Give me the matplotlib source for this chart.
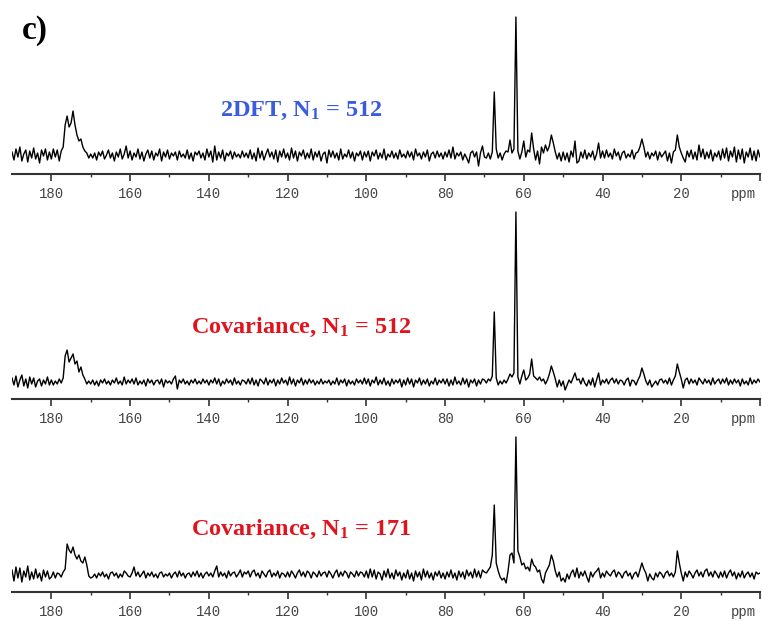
import numpy as np
import matplotlib
matplotlib.use('Agg')
import matplotlib.pyplot as plt

# chemical shift axis, 190 -> 0 ppm in 0.5 ppm steps
ppm = np.arange(190, -0.25, -0.5)

# 2DFT, N1 = 512 (intensity, arbitrary units, 10 ppm per row)
s1 = ([3, -5, 6, -2, 8, -6, 1, 5, -7, 4, -3, 7, -4, 2, -8, 5, -1, 6, -5, 3] +
      [-4, 6, -2, 5, -6, 4, 8, 30, 39, 28, 32, 44, 30, 20, 14, 16, 8, 4, 2, -3] +
      [1, -3, 2, -5, 3, -1, 4, -4, 0, 5, -3, 2, -6, 3, -2, 6, -4, 1, 9, -3] +
      [4, -5, 2, -2, 6, -4, 3, -6, 1, 5, -3, 4, -5, 2, -1, 6, -6, 3, -2, 5] +
      [-4, 2, -1, 3, -5, 4, -2, 1, -3, 5, -4, 2, -6, 3, 0, 4, -3, 2, -5, 6] +
      [-2, 4, -7, 9, -5, 3, -3, 5, -6, 2, -1, 4, -4, 3, -2, 1, -3, 4, -2, 2] +
      [-3, 5, -4, 2, -6, 7, -3, 4, -5, 1, 6, -2, 3, -4, 5, -7, 4, -2, 6, -3] +
      [2, -5, 7, -3, 4, -6, 3, -1, 5, -4, 2, -3, 6, -5, 3, -2, 4, -6, 1, 3] +
      [-8, 5, -2, 4, -3, 2, -5, 6, -4, 1, -2, 5, -3, 3, -6, 2, -1, 4, -5, 3] +
      [-2, 4, -6, 3, -1, 5, -4, 2, -3, 6, -5, 1, -2, 4, -3, 2, -4, 5, -2, 1] +
      [-3, 4, -2, 3, -5, 6, -1, 2, -4, 3, -2, 5, -6, 1, 3, -3, 4, -2, 2, -4] +
      [3, -2, 5, -3, 8, -4, 2, -1, 3, -5, 1, -3, -8, 2, 4, -2, 3, -11, 2, 9] +
      [-2, -3, 2, -4, 3, 63, 6, -3, 2, -5, 1, 4, 3, 15, 2, 6, 138, 4, -4, 3] +
      [14, -2, 5, 3, 22, 6, -5, 4, -9, 8, 2, 10, 4, 9, 20, 12, 3, -4, 2, -6] +
      [3, -5, 2, -7, 4, -2, 14, -8, -6, 3, -3, 5, -4, 2, -2, 4, -5, 1, 12, -3] +
      [4, -3, 5, -2, 2, -4, 6, -1, 3, -5, 2, 4, -3, 1, -2, 5, -4, 2, 3, 8] +
      [16, 8, -2, 3, -4, 2, -1, 4, -5, 3, -2, 1, 4, -6, 2, -8, 3, 5, 20, 8] +
      [2, -3, -7, 4, -2, 5, -4, 3, -5, 10, -2, 6, -4, 3, -3, 5, -6, 2, -2, 4] +
      [-5, 6, -3, 7, -6, 4, -2, 8, -7, 5, -4, 6, -8, 3, -2, 7, -5, 4, -6, 5] +
      [-2])

# Covariance, N1 = 512
s2 = ([4, -3, 6, -5, 2, 7, -4, 3, -6, 5, -2, 4, -5, 1, 3, -4, 2, -2, 5, -3] +
      [2, -3, 1, -2, 3, -1, 4, 26, 32, 20, 24, 28, 18, 21, 10, 15, 7, 3, -2, 1] +
      [-2, 2, -3, 1, -4, 2, -1, 3, -2, 1, -3, 2, -1, 4, -2, 1, -3, 5, -2, 2] +
      [-1, 3, -2, 4, -3, 1, -2, 2, -4, 3, -1, 2, -3, 1, 2, -2, 3, -5, 2, -1] +
      [1, -2, 3, 6, -7, 2, -1, 3, -2, 1, -3, 2, -1, 3, -2, 1, -2, 3, -1, 2] +
      [-3, 2, -1, 4, -2, 3, -4, 1, -2, 3, -1, 2, -3, 4, -2, 1, -3, 2, 1, -2] +
      [3, -2, 4, -3, 2, -4, 3, 1, -2, 4, -3, 2, -1, 3, -4, 2, -2, 4, -1, 2] +
      [-3, 5, -2, 3, -4, 2, -1, 4, -3, 2, -2, 3, -1, 2, -3, 1, -2, 3, -2, 1] +
      [-1, 2, -3, 1, -2, 4, -3, 2, -1, 3, -4, 2, -2, 1, -3, 3, -1, 2, -2, 4] +
      [-2, 3, -4, 2, -1, 5, -3, 2, -2, 4, -3, 1, -4, 3, -2, 2, -1, 3, -5, 2] +
      [-3, 4, -2, 3, -5, 2, -1, 4, -3, 2, -2, 3, -4, 1, -2, 4, -3, 2, -1, 3] +
      [-2, 3, -4, 2, -3, 5, -2, 1, -3, 4, -2, 3, -5, 2, -1, 3, -4, 2, -2, 3] +
      [2, -1, 3, 1, 6, 70, 4, -3, 1, -2, 2, -1, 3, 8, 5, 9, 170, 5, -2, 6] +
      [12, 2, 4, 8, 23, 6, 4, 2, 5, 1, 3, -2, 2, 8, 16, 10, 3, -5, 2, -4] +
      [1, -8, -3, 2, -1, 4, 9, 2, 3, -2, 4, -1, -4, 2, -3, 4, -5, 2, 9, -3] +
      [2, -1, 3, -2, 2, 4, -1, 3, -2, 2, 1, -3, 2, 4, -4, 2, 1, -3, 2, 6] +
      [14, 8, 1, -3, 2, -5, -2, 1, -3, 2, 3, -1, 2, -2, 4, -3, 2, 6, 18, 10] +
      [3, -6, 2, 4, -2, 3, -1, 2, -3, 4, 1, -2, 3, -1, 2, -3, 4, -2, 1, 3] +
      [-2, 3, -1, 4, -3, 2, -2, 3, -1, 2, -4, 3, -2, 1, -3, 4, -2, 2, -1, 3] +
      [0])

# Covariance, N1 = 171
s3 = ([5, -6, 8, -3, 7, -7, 4, -2, 9, -5, 3, -4, 6, -3, 2, -6, 5, -2, 4, -4] +
      [-2, 3, -3, 2, 1, -2, 3, 6, 31, 25, 22, 28, 20, 16, 20, 14, 12, 18, 10, -1] +
      [-3, -2, 1, -3, 2, -1, 3, -2, 1, -4, 2, 3, -1, 2, -3, 1, -2, 4, 2, -1] +
      [-2, 2, 8, -1, 3, -2, 1, 4, -3, 2, -1, 3, -2, 1, -3, 2, 3, -2, 1, -1] +
      [2, -3, 1, 3, -2, 4, -1, 2, -3, 1, 2, -2, 3, -1, 4, -2, 2, -3, 1, 3] +
      [-1, 2, -2, 4, 9, -2, 3, -1, 2, -3, 4, -1, 2, 3, -2, 1, 5, -2, 3, 1] +
      [4, -2, 3, 5, -1, 2, -3, 4, 1, -2, 3, 5, -2, 2, -1, 4, -3, 2, 1, -2] +
      [3, -2, 4, 1, -3, 2, 5, -1, 3, -2, 4, 2, -3, 3, 1, -2, 4, -1, 2, 3] +
      [-2, 4, 1, -3, 2, 5, -2, 3, -1, 4, 2, -3, 3, 1, -2, 4, -1, 3, 2, -2] +
      [4, -3, 6, -2, 5, -4, 3, 1, -5, 4, -2, 6, -3, 2, -4, 5, -1, 3, -5, 2] +
      [-3, 5, -4, 2, -6, 4, -2, 3, -5, 6, -2, 4, -3, 2, -5, 3, -1, 4, -3, 2] +
      [-4, 3, -2, 5, -3, 2, -5, 4, -2, 3, -4, 5, -1, 3, -3, 6, -2, 4, -3, 5] +
      [3, 2, 5, 8, 20, 70, 12, 4, -2, -5, -3, -8, 4, 20, 22, 12, 138, 24, 18, 10] +
      [12, 6, 8, 4, 16, 10, 8, 3, 5, -4, -8, 2, 6, 10, 20, 14, 4, -2, 3, -6] +
      [-3, -7, 1, -4, 2, 5, -2, 7, -3, 3, -1, 4, -2, -7, 3, -2, 2, 4, 7, -3] +
      [2, -2, 4, 1, -1, 3, 5, -2, 3, 1, -3, 2, 4, -1, 2, -4, 1, 3, -2, 5] +
      [12, 6, 2, -6, 1, -3, -5, 2, -2, 3, 1, -3, 2, 4, -1, 2, -2, 3, 24, 12] +
      [2, -6, 3, -2, 4, 1, -3, 2, 5, -1, 3, -2, 4, 6, -1, 3, -2, 4, 1, -3] +
      [3, -2, 4, -3, 2, 5, -1, 3, -4, 2, -2, 4, -3, 1, 3, -2, 2, -4, 3, 1] +
      [2])

titles = ['2DFT, N$_1$ = 512', 'Covariance, N$_1$ = 512', 'Covariance, N$_1$ = 171']
title_colors = ['#3a5de0', '#e0141e', '#e0141e']
major_ticks = [0, 20, 40, 60, 80, 100, 120, 140, 160, 180]
major_labels = ['', '20', '40', '60', '80', '100', '120', '140', '160', '180']
minor_ticks = [10, 30, 50, 70, 90, 110, 130, 150, 170]

plt.rcParams['mathtext.fontset'] = 'custom'
plt.rcParams['mathtext.rm'] = 'Liberation Serif:bold'
plt.rcParams['mathtext.it'] = 'Liberation Serif:bold'
plt.rcParams['mathtext.bf'] = 'Liberation Serif:bold'

W, H = 762., 621.
fig = plt.figure(figsize=(W / 100, H / 100), dpi=100)

# (axis line y, top y, ylim, title baseline y) in pixels from top
panels = [(174, 10, (-19, 145), 116),
          (399, 205, (-17, 177), 333),
          (592, 430, (-17, 145), 535)]

for k, (yb, yt, yl, ty) in enumerate(panels):
    ax = fig.add_axes([12 / W, 1 - yb / H, 748 / W, (yb - yt) / H])
    ax.plot(ppm, [s1, s2, s3][k], color='black', lw=1.0)
    ax.set_xlim(190, 0)
    ax.set_ylim(*yl)
    for s in ['top', 'left', 'right']:
        ax.spines[s].set_visible(False)
    ax.spines['bottom'].set_color('#333333')
    ax.spines['bottom'].set_linewidth(1.5)
    ax.set_yticks([])
    ax.set_xticks(major_ticks)
    ax.set_xticklabels(major_labels, fontfamily='Liberation Mono', fontsize=10, color='#444444')
    ax.set_xticks(minor_ticks, minor=True)
    ax.tick_params(axis='x', which='major', direction='out', length=5, width=1.2, color='#333333', pad=4.5)
    ax.tick_params(axis='x', which='minor', direction='out', length=2, width=1, color='#333333')
    ax.annotate('ppm', xy=(4.3, 0), xycoords=('data', 'axes fraction'), xytext=(0, -9.5),
                textcoords='offset points', ha='center', va='top',
                fontfamily='Liberation Mono', fontsize=10, color='#444444')
    ax.patch.set_alpha(0)
    fig.text(301 / W, 1 - ty / H, titles[k], ha='center', va='baseline',
             fontfamily='Liberation Serif', fontweight='bold', fontsize=17.5, color=title_colors[k])

fig.text(22 / W, 1 - 39 / H, 'c)', ha='left', va='baseline',
         fontfamily='Liberation Serif', fontweight='bold', fontsize=24)

fig.savefig('out.png', dpi=100)
